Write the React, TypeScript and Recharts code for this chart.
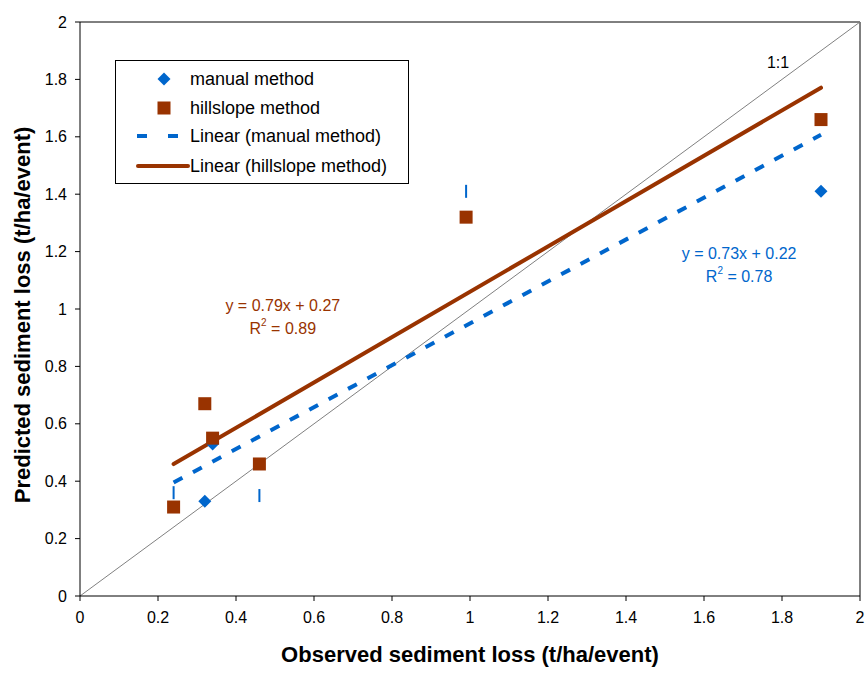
import {
  ScatterChart,
  Scatter,
  XAxis,
  YAxis,
  ReferenceLine,
  ReferenceDot,
} from 'recharts';

const observed = [0.24, 0.32, 0.34, 0.46, 0.99, 1.9];
const manualPredicted = [0.36, 0.33, 0.53, 0.35, 1.41, 1.41];
const hillslopePredicted = [0.31, 0.67, 0.55, 0.46, 1.32, 1.66];

// trendline coefficients as printed on the chart
const manualFit = { slope: 0.73, intercept: 0.22, r2: 0.78 };
const hillslopeFit = { slope: 0.79, intercept: 0.27, r2: 0.89 };

const axisTicks = [0, 0.2, 0.4, 0.6, 0.8, 1, 1.2, 1.4, 1.6, 1.8, 2];

const BLUE = '#0066cc';
const BROWN = '#993300';
const FONT = '"Liberation Sans", Arial, sans-serif';

const manualData = observed.map((x, i) => ({ x, y: manualPredicted[i] }));
const hillslopeData = observed.map((x, i) => ({ x, y: hillslopePredicted[i] }));

const xMin = Math.min(...observed);
const xMax = Math.max(...observed);
const fitSegment = (f: { slope: number; intercept: number }) => [
  { x: xMin, y: f.slope * xMin + f.intercept },
  { x: xMax, y: f.slope * xMax + f.intercept },
];

// points of the manual series that render as thin ticks in the original
const tickGlyphs = [0, 3, 4];

function ManualShape(props: any) {
  const { cx, cy, index } = props;
  if (tickGlyphs.includes(index)) {
    return <rect x={cx - 1} y={cy - 6.5} width={2} height={13} fill={BLUE} />;
  }
  return (
    <polygon
      points={`${cx},${cy - 6.5} ${cx + 6.5},${cy} ${cx},${cy + 6.5} ${cx - 6.5},${cy}`}
      fill={BLUE}
    />
  );
}

function SquareShape(props: any) {
  const { cx, cy } = props;
  return <rect x={cx - 6.5} y={cy - 6.5} width={13} height={13} fill={BROWN} />;
}

function EquationLabel(props: any) {
  const { viewBox, fit, color } = props;
  const cx = viewBox.x + viewBox.width / 2;
  const cy = viewBox.y + viewBox.height / 2;
  return (
    <g fontFamily={FONT} fontSize={16} fill={color} textAnchor="middle">
      <text x={cx} y={cy - 4}>
        {`y = ${fit.slope}x + ${fit.intercept}`}
      </text>
      <text x={cx} y={cy + 19}>
        R<tspan fontSize={10} dy={-8}>2</tspan>
        <tspan dy={8}>{` = ${fit.r2}`}</tspan>
      </text>
    </g>
  );
}

function LegendBox() {
  const rows = [
    { label: 'manual method', kind: 'diamond' },
    { label: 'hillslope method', kind: 'square' },
    { label: 'Linear (manual method)', kind: 'dash' },
    { label: 'Linear (hillslope method)', kind: 'line' },
  ];
  return (
    <div
      style={{
        position: 'absolute',
        left: 115,
        top: 60,
        width: 292,
        height: 122,
        border: '1px solid #000',
        background: '#fff',
        fontFamily: FONT,
        fontSize: 18,
        color: '#000',
      }}
    >
      {rows.map((r, i) => (
        <div
          key={r.label}
          style={{
            position: 'absolute',
            top: [7, 36, 64, 94][i],
            left: 0,
            height: 22,
            display: 'flex',
            alignItems: 'center',
          }}
        >
          <svg width={74} height={22}>
            {r.kind === 'diamond' && (
              <polygon points="48,4.5 54.5,11 48,17.5 41.5,11" fill={BLUE} />
            )}
            {r.kind === 'square' && (
              <rect x={41.5} y={4.5} width={13} height={13} fill={BROWN} />
            )}
            {r.kind === 'dash' && (
              <line x1={21} y1={11} x2={62} y2={11} stroke={BLUE} strokeWidth={4} strokeDasharray="10 21" />
            )}
            {r.kind === 'line' && (
              <line x1={22} y1={11} x2={72} y2={11} stroke={BROWN} strokeWidth={4} strokeLinecap="round" />
            )}
          </svg>
          <span style={{ whiteSpace: 'nowrap' }}>{r.label}</span>
        </div>
      ))}
    </div>
  );
}

export default function App() {
  return (
    <div style={{ position: 'relative', width: 867, height: 677, background: '#fff' }}>
      <style>{'body{margin:0}'}</style>
      <ScatterChart
        width={867}
        height={677}
        margin={{ top: 22, right: 7, left: 0, bottom: 0 }}
      >
        <XAxis
          type="number"
          dataKey="x"
          domain={[0, 2]}
          ticks={axisTicks}
          height={81}
          stroke="#000"
          tickSize={5}
          tickMargin={11}
          tick={{ fill: '#000', fontSize: 16, fontFamily: FONT }}
          label={{
            value: 'Observed sediment loss (t/ha/event)',
            position: 'insideBottom',
            offset: 15,
            style: { fontSize: 22, fontWeight: 'bold', fontFamily: FONT, fill: '#000' },
          }}
        />
        <YAxis
          type="number"
          dataKey="y"
          domain={[0, 2]}
          ticks={axisTicks}
          width={80}
          stroke="#000"
          tickSize={5}
          tickMargin={8}
          tick={{ fill: '#000', fontSize: 16, fontFamily: FONT }}
          label={{
            value: 'Predicted sediment loss (t/ha/event)',
            angle: -90,
            position: 'insideLeft',
            offset: 22,
            dy: 6,
            style: { textAnchor: 'middle', fontSize: 22, fontWeight: 'bold', fontFamily: FONT, fill: '#000' },
          }}
        />
        <ReferenceLine y={2} stroke="#000" />
        <ReferenceLine x={2} stroke="#000" />
        <ReferenceLine
          segment={[
            { x: 0, y: 0 },
            { x: 2, y: 2 },
          ]}
          stroke="#808080"
          strokeWidth={1}
        />
        <ReferenceLine
          segment={fitSegment(manualFit)}
          stroke={BLUE}
          strokeWidth={4}
          strokeDasharray="10 12"
        />
        <ReferenceLine
          segment={fitSegment(hillslopeFit)}
          stroke={BROWN}
          strokeWidth={4}
          strokeLinecap="round"
        />
        <Scatter
          name="manual method"
          data={manualData}
          shape={<ManualShape />}
          isAnimationActive={false}
        />
        <Scatter
          name="hillslope method"
          data={hillslopeData}
          shape={<SquareShape />}
          isAnimationActive={false}
        />
        <ReferenceDot
          x={0.52}
          y={0.98}
          r={0}
          stroke="none"
          label={(p: any) => <EquationLabel {...p} fit={hillslopeFit} color={BROWN} />}
        />
        <ReferenceDot
          x={1.69}
          y={1.16}
          r={0}
          stroke="none"
          label={(p: any) => <EquationLabel {...p} fit={manualFit} color={BLUE} />}
        />
        <ReferenceDot
          x={1.79}
          y={1.86}
          r={0}
          stroke="none"
          label={{ value: '1:1', position: 'center', fill: '#000', fontSize: 16, fontFamily: FONT }}
        />
      </ScatterChart>
      <LegendBox />
    </div>
  );
}
